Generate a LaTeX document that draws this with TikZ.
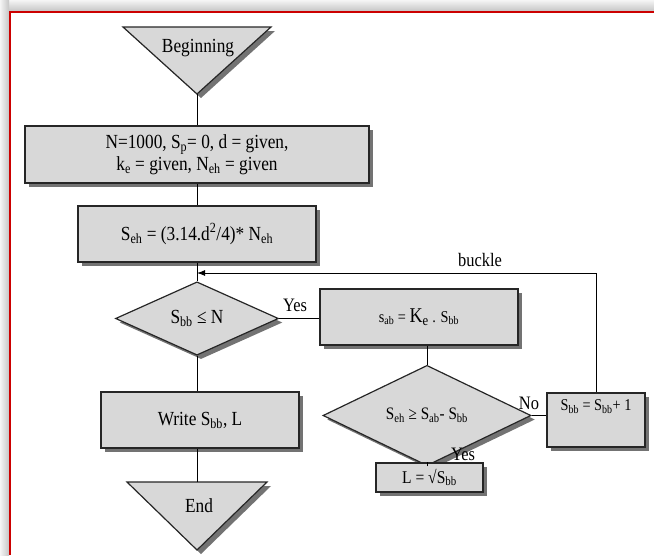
\documentclass[tikz,border=0pt]{standalone}
\usepackage{fontspec}
\setmainfont{Liberation Serif}[FakeStretch=0.865]
\usetikzlibrary{shapes.geometric,arrows.meta}
\newcommand\sbs[1]{\textsubscript{#1}}
\definecolor{boxfill}{HTML}{D8D8D8}
\definecolor{framered}{HTML}{CC0000}
\definecolor{shadowgray}{HTML}{737373}
\begin{document}
\begin{tikzpicture}[x=1pt,y=-1pt,
  shapeshadow/.style={preaction={fill=shadowgray, draw=none, transform canvas={shift={(4pt,-4pt)}}}},
  stepbox/.style={rectangle, draw=black!85, line width=1.2pt, fill=boxfill, shapeshadow, inner sep=2pt, align=center},
  decision/.style={diamond, draw=black!85, line width=1.2pt, fill=boxfill, shapeshadow, inner sep=1pt, align=center},
  conn/.style={draw=black, line width=1pt},
  lbl/.style={font=\fontsize{19}{22}\selectfont, inner sep=0pt},
  big/.style={font=\fontsize{20}{22}\selectfont},
  mid/.style={font=\fontsize{16.5}{20}\selectfont},
]
\useasboundingbox (0,0) rectangle (654,555);
% frame
\shade[top color=gray!8, bottom color=gray!45] (0,0) rectangle (654,11);
\shade[left color=gray!8, right color=gray!45] (0,0) rectangle (9,555);
\draw[framered, line width=2pt] (10,555) -- (10,12) -- (654,12);

% start triangle
\fill[shadowgray] (127,31) -- (275,31) -- (201,98) -- cycle;
\draw[line width=1.2pt, draw=black!85, fill=boxfill] (123,27) -- (271,27) -- (197,94) -- cycle;
\node[big] (begin) at (198,48) {Beginning};
\coordinate (beginapex) at (197,94);

% end triangle
\fill[shadowgray] (131,486) -- (271,486) -- (201,554) -- cycle;
\draw[line width=1.2pt, draw=black!85, fill=boxfill] (127,482) -- (267,482) -- (197,550) -- cycle;
\node[big] (end) at (199,506) {End};
\coordinate (endtop) at (197,482);

% boxes
\node[stepbox, big, minimum width=344pt, minimum height=57pt] (init) at (197,154.5)
  {N=1000, S\sbs{p}= 0, d = given,\\ k\sbs{e} = given, N\sbs{eh} = given};
\node[stepbox, big, minimum width=238pt, minimum height=56pt] (area) at (197,234)
  {S\sbs{eh} = (3.14.d\textsuperscript{2}/4)*\ N\sbs{eh}};
\node[decision, big, minimum width=163pt, minimum height=57pt] (cond) at (197,318.5)
  {S\sbs{bb} ≤ N};
\node[stepbox, mid, minimum width=198pt, minimum height=56pt] (sab) at (419,317)
  {s\sbs{ab} = {\fontsize{21}{22}\selectfont K\sbs{e}} . S\sbs{bb}};
\node[decision, font=\fontsize{17.5}{20}\selectfont, minimum width=208pt, minimum height=65pt] (check) at (427,415.5)
  {S\sbs{eh} ≥ S\sbs{ab}- S\sbs{bb}};
\node[stepbox, minimum width=98pt, minimum height=54pt,
  label={[anchor=center, yshift=-14pt, mid]north:{S\sbs{bb} = S\sbs{bb}+ 1}}] (incr) at (596,420) {};
\node[stepbox, font=\fontsize{18}{20}\selectfont, minimum width=107pt, minimum height=29pt] (root) at (429.5,477.5)
  {L = √S\sbs{bb}};
\node[stepbox, big, minimum width=198pt, minimum height=56pt] (write) at (200,420)
  {Write S\sbs{bb}, L};

% connectors
\coordinate (merge) at (197,273);
\draw[conn] (beginapex) -- (beginapex |- init.north);
\draw[conn] (init.south) -- (area.north);
\draw[conn] (area.south) -- (cond.north);
\draw[conn] (cond.east) -- (cond.east -| sab.west);
\draw[conn] (sab.south -| check.north) -- (check.north);
\draw[conn] (check.east) -- (check.east -| incr.west);
\draw[conn, -{Latex[length=8pt,width=6pt]}] (incr.north) |- (merge);
\draw[conn] (check.south) -- (check.south |- root.north);
\draw[conn] (cond.south) -- (cond.south |- write.north);
\draw[conn] (write.south -| endtop) -- (endtop);

% labels
\node[lbl] (yes1) at (295,305) {Yes};
\node[lbl] (no) at (529,403) {No};
\node[lbl] (yes2) at (463,454) {Yes};
\node[lbl] (buckle) at (480,260) {buckle};
\end{tikzpicture}
\end{document}
